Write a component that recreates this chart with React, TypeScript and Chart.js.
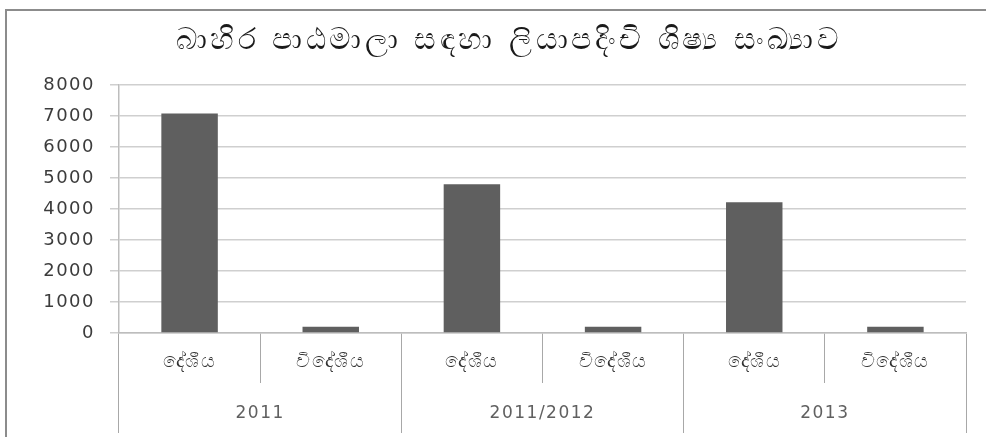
import React, { useEffect, useRef } from 'react';
import { Chart, registerables } from 'chart.js';

Chart.register(...registerables);

const TITLE = 'බාහිර පාඨමාලා සඳහා ලියාපදිංචි ශිෂ්‍ය සංඛ්‍යාව';
const subCategories = ['දේශීය', 'විදේශීය', 'දේශීය', 'විදේශීය', 'දේශීය', 'විදේශීය'];
const groupLabels = ['2011', '2011/2012', '2013'];
const students = [7080, 200, 4800, 200, 4220, 200];
const yMin = 0;
const yMax = 8000;
const yStep = 1000;

const FONT = "'DejaVu Sans', 'Noto Sans', sans-serif";

const framePlugin = {
  id: 'frame',
  afterLayout(chart: any) {
    // let the y tick labels use the space left of the axis box (no clipping)
    if (chart.scales.y) chart.scales.y.left = 10;
  },
  beforeDraw(chart: any) {
    const ctx = chart.ctx;
    ctx.save();
    ctx.fillStyle = '#ffffff';
    ctx.fillRect(0, 0, chart.width, chart.height);
    ctx.strokeStyle = '#8c8c8c';
    ctx.lineWidth = 2;
    ctx.beginPath();
    ctx.moveTo(6, chart.height);
    ctx.lineTo(6, 10);
    ctx.lineTo(chart.width, 10);
    ctx.stroke();
    ctx.restore();
    // wide lettering for the title (drawn first among z=0 layers)
    (ctx as any).letterSpacing = '3.5px';
  },
  beforeDatasetsDraw(chart: any) {
    // tick labels are drawn on a layer above the datasets
    (chart.ctx as any).letterSpacing = '1.5px';
  },
  afterDraw(chart: any) {
    (chart.ctx as any).letterSpacing = '0px';
  },
};

export default function App() {
  const ref = useRef<HTMLCanvasElement | null>(null);

  useEffect(() => {
    if (!ref.current) return;
    const chart = new Chart(ref.current, {
      type: 'bar',
      data: {
        labels: subCategories,
        datasets: [
          {
            data: students,
            backgroundColor: '#5f5f5f',
            borderWidth: 0,
            categoryPercentage: 1,
            barPercentage: 0.4,
          },
        ],
      },
      plugins: [framePlugin],
      options: {
        responsive: false,
        animation: false,
        layout: { padding: { left: 52, right: 20, top: 20, bottom: 4 } },
        plugins: {
          legend: { display: false },
          tooltip: { enabled: false },
          title: {
            display: true,
            text: TITLE,
            color: '#1a1a1a',
            font: { family: FONT, size: 30, weight: 'normal', lineHeight: 1.2 },
            padding: { top: 3, bottom: 26 },
          },
        },
        scales: {
          y: {
            min: yMin,
            max: yMax,
            ticks: {
              stepSize: yStep,
              color: '#3c3c3c',
              padding: 15,
              z: 1,
              font: { family: FONT, size: 18 },
              callback: (v: any) => String(v),
            },
            grid: { color: '#cfcfcf', lineWidth: 1.5, tickLength: 9 },
            border: { display: true, color: '#bdbdbd', width: 1.5 },
            afterFit(scale: any) {
              scale.width = 67;
            },
          },
          x: {
            position: 'bottom',
            grid: {
              offset: true,
              drawOnChartArea: false,
              drawTicks: true,
              tickLength: 50,
              color: '#a8a8a8',
            },
            border: { display: true, color: '#bdbdbd', width: 1.5 },
            ticks: {
              color: '#333333',
              padding: -32,
              z: 1,
              maxRotation: 0,
              autoSkip: false,
              font: { family: FONT, size: 19 },
            },
            afterFit(scale: any) {
              scale.height = 50;
            },
          },
          x2: {
            type: 'category',
            position: 'bottom',
            labels: groupLabels,
            grid: {
              offset: true,
              drawOnChartArea: false,
              drawTicks: true,
              tickLength: 50,
              color: '#a8a8a8',
            },
            border: { display: false },
            ticks: {
              color: '#606060',
              padding: -30,
              z: 1,
              maxRotation: 0,
              autoSkip: false,
              font: { family: FONT, size: 17 },
            },
            afterFit(scale: any) {
              scale.height = 50;
            },
          },
        },
      },
    } as any);
    return () => chart.destroy();
  }, []);

  return (
    <div style={{ position: 'fixed', left: 0, top: 0, width: 986, height: 437, background: '#fff' }}>
      <canvas ref={ref} width={986} height={437} style={{ display: 'block' }} />
    </div>
  );
}
